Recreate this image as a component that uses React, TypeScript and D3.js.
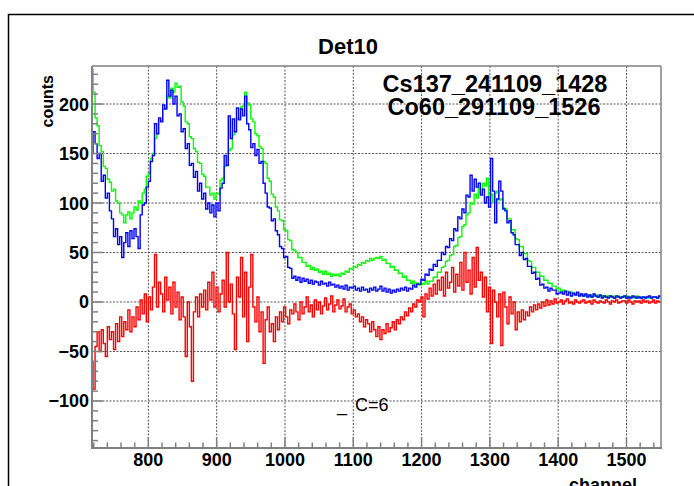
import React from "react";
import * as d3 from "d3";

// Histogram binning (channel of first bin edge, bin width in channels)
const BIN_START = 716;
const BIN_WIDTH = 3;

// Green series, one row = 10 bins = 30 channels (716, 746, 776, ...)
const greenCounts = [
  235, 212, 186, 178, 158, 152, 137, 135, 124, 121,
  112, 114, 102, 100, 90, 88, 80, 88, 91, 84,
  90, 96, 93, 102, 100, 110, 114, 127, 130, 145,
  150, 165, 170, 184, 183, 195, 196, 208, 206, 216,
  212, 221, 217, 218, 202, 198, 182, 180, 167, 165,
  155, 152, 141, 140, 129, 127, 116, 116, 108, 110,
  104, 110, 109, 123, 125, 137, 138, 153, 155, 169,
  172, 185, 186, 197, 198, 212, 201, 199, 185, 182,
  170, 168, 157, 155, 142, 140, 125, 122, 109, 106,
  96, 92, 83, 82, 73, 72, 63, 62, 53, 52,
  50, 45, 45, 40, 40, 36, 37, 33, 35, 32,
  33, 30, 31, 28, 31, 28, 29, 26, 28, 27,
  28, 26, 29, 28, 31, 30, 34, 33, 36, 35,
  38, 37, 40, 39, 42, 41, 44, 42, 44, 45,
  44, 46, 42, 43, 39, 39, 35, 36, 32, 32,
  29, 29, 25, 26, 22, 22, 19, 21, 18, 19,
  17, 19, 18, 21, 18, 21, 21, 25, 25, 30,
  30, 35, 36, 41, 42, 47, 48, 56, 57, 65,
  66, 76, 78, 88, 90, 100, 99, 109, 105, 115,
  110, 120, 117, 125, 106, 109, 101, 110, 112, 103,
  104, 95, 94, 84, 84, 73, 73, 64, 63, 56,
  56, 49, 49, 42, 41, 35, 35, 30, 30, 26,
  26, 22, 22, 19, 19, 16, 16, 13, 14, 11,
  12, 10, 11, 9, 10, 8, 9, 7, 8, 7,
  6, 7, 6, 7, 5, 6, 7, 5, 6, 6,
  5, 6, 6, 5, 6, 4, 5, 6, 5, 5,
  5, 6, 4, 5, 5, 4, 6, 5, 4, 5,
  5, 4, 5, 4, 5, 5, 4, 5,
];

// Blue series
const blueCounts = [
  150, 172, 160, 145, 150, 122, 128, 105, 110, 92,
  84, 66, 74, 58, 66, 45, 60, 70, 56, 72,
  64, 74, 66, 54, 88, 98, 100, 116, 122, 142,
  148, 180, 170, 186, 182, 199, 195, 224, 208, 214,
  200, 208, 188, 190, 172, 175, 155, 160, 138, 140,
  126, 132, 112, 120, 104, 110, 94, 100, 90, 98,
  86, 100, 92, 115, 120, 148, 138, 188, 165, 185,
  172, 196, 184, 195, 188, 208, 180, 174, 156, 160,
  148, 154, 140, 142, 120, 110, 96, 95, 82, 84,
  72, 68, 56, 54, 45, 46, 35, 34, 24, 26,
  22, 25, 20, 24, 21, 23, 19, 22, 18, 21,
  20, 17, 21, 18, 19, 16, 20, 17, 18, 15,
  17, 14, 16, 13, 17, 12, 15, 14, 16, 12,
  14, 11, 15, 12, 13, 10, 14, 12, 15, 11,
  13, 16, 11, 14, 10, 13, 9, 12, 10, 13,
  11, 14, 12, 15, 11, 14, 13, 17, 15, 18,
  18, 23, 22, 28, 27, 33, 32, 38, 36, 42,
  42, 50, 48, 56, 55, 64, 62, 74, 72, 86,
  84, 94, 90, 108, 106, 128, 112, 124, 116, 120,
  108, 114, 100, 106, 96, 145, 112, 80, 104, 122,
  112, 94, 92, 80, 82, 70, 68, 58, 58, 47,
  50, 43, 44, 36, 36, 29, 30, 23, 24, 17,
  18, 14, 15, 11, 14, 12, 12, 8, 9, 10,
  8, 11, 7, 10, 6, 9, 7, 10, 6, 8,
  6, 8, 5, 7, 5, 8, 6, 5, 7, 4,
  6, 5, 4, 6, 5, 4, 6, 5, 4, 5,
  6, 4, 5, 4, 6, 5, 4, 5, 4, 5,
  4, 5, 6, 4, 5, 5, 4, 6,
];

// Red series (difference)
const redCounts = [
  -60, -88, -45, -30, -50, -28, -42, -55, -25, -38,
  -30, -48, -22, -40, -15, -35, -20, -28, -8, -30,
  -15, -25, -5, -18, 2, -12, 8, -20, 5, -8,
  15, 48, -5, 20, 8, -10, 25, 2, 15, -12,
  20, -5, 10, -18, 5, -15, -55, 0, -25, -80,
  -10, 5, -15, 8, -5, 12, -8, 20, 2, 30,
  -5, 15, -10, 8, 22, -5, 50, 0, 18, -12,
  -48, 25, 5, 45, -15, 30, -40, 15, 48, -5,
  -20, 5, -30, -10, -62, -18, -5, -30, -22, -40,
  -15, -28, -10, -20, -5, -15, -22, -8, -12, -2,
  -10, -18, 0, -12, -5, 5, -10, -3, -15, 2,
  -8, 0, -12, -4, 4, -8, -2, 6, -10, -3,
  2, -7, -4, 3, -10, -5, -2, -12, -8, -15,
  -12, -20, -15, -25, -18, -22, -30, -20, -28, -35,
  -25, -38, -28, -32, -22, -30, -26, -20, -28, -18,
  -22, -15, -18, -10, -14, -6, -10, -2, -5, 2,
  0, 5, -15, 8, 3, 14, 6, 18, 8, 22,
  12, 25, 6, 30, 14, 20, 35, 10, 28, 16,
  40, 12, 50, 20, 32, 8, 45, 15, 55, 22,
  30, 5, 25, -10, 15, -42, 12, 0, -15, 8,
  -44, 10, -5, -22, 5, -12, 0, -28, -10, -20,
  -8, -18, -10, -14, -5, -10, -3, -8, -2, -6,
  0, -4, 2, -3, 1, -2, 3, -1, 0, 2,
  -2, 1, 3, -1, 0, -2, 2, 0, -1, 1,
  2, -1, 0, 1, -2, 2, 0, -1, 1, 0,
  -1, 2, 0, -2, 1, 0, 2, -1, 0, 1,
  1, -1, 2, 0, -2, 1, 0, 1, -1, 2,
  0, 1, -1, 0, 2, -1, 1, 0,
];

const xTickValues = [800, 900, 1000, 1100, 1200, 1300, 1400, 1500];
const yTickValues = [-100, -50, 0, 50, 100, 150, 200];
const titleText = "Det10";
const legendLines = ["Cs137_241109_1428", "Co60_291109_1526"];
const xAxisTitle = "channel";
const yAxisTitle = "counts";

const W = 694;
const H = 486;
const L = 92, R = 661, T = 66, B = 448;
const FONT = "'Liberation Sans', Arial, Helvetica, sans-serif";
const AXIS_GRAY = "#808080";

export default function App() {
  const x = d3.scaleLinear().domain([717.5, 1550.5]).range([L, R]);
  const y = d3.scaleLinear().domain([-147.5, 238.4]).range([B, T]);

  const step = d3
    .line<[number, number]>()
    .x((d) => x(d[0]))
    .y((d) => y(d[1]))
    .curve(d3.curveStepAfter);

  const toPts = (vals: number[]): [number, number][] => {
    const pts: [number, number][] = vals.map((v, i) => [BIN_START + i * BIN_WIDTH, v]);
    pts.push([BIN_START + vals.length * BIN_WIDTH, vals[vals.length - 1]]);
    return pts;
  };

  const xMinor = d3.range(720, 1550, 20);
  const yMinor = d3.range(-140, 239, 10);

  return (
    <svg
      width={W}
      height={H}
      style={{ position: "absolute", left: 0, top: 0, background: "#fff" }}
      fontFamily={FONT}
    >
      <defs>
        <clipPath id="plotclip">
          <rect x={L} y={T} width={R - L} height={B - T} />
        </clipPath>
      </defs>
      {/* canvas frame */}
      <rect x={8.5} y={14.5} width={720} height={520} fill="none" stroke="#000" strokeWidth={1.5} />

      {/* grid */}
      <g stroke="#555" strokeWidth={1} strokeDasharray="2,1.5">
        {xTickValues.map((t) => (
          <line key={"gx" + t} x1={x(t)} x2={x(t)} y1={T} y2={B} />
        ))}
        {yTickValues.map((t) => (
          <line key={"gy" + t} x1={L} x2={R} y1={y(t)} y2={y(t)} />
        ))}
      </g>

      {/* histograms */}
      <g clipPath="url(#plotclip)" fill="none" strokeWidth={1.4}>
        <path d={step(toPts(greenCounts)) || ""} stroke="#00ff00" />
        <path d={step(toPts(blueCounts)) || ""} stroke="#0000ff" />
        <path d={step(toPts(redCounts)) || ""} stroke="#ff0000" />
      </g>

      {/* frame */}
      <line x1={L} x2={R} y1={T} y2={T} stroke={AXIS_GRAY} strokeWidth={1.5} />
      <line x1={R} x2={R} y1={T} y2={B} stroke={AXIS_GRAY} strokeWidth={1.5} />
      <line x1={L} x2={R + 1} y1={B} y2={B} stroke={AXIS_GRAY} strokeWidth={2} />
      <line x1={L} x2={L} y1={T} y2={B + 1} stroke={AXIS_GRAY} strokeWidth={2} />

      {/* ticks */}
      <g stroke={AXIS_GRAY} strokeWidth={1.5}>
        {xMinor.map((t) => (
          <line key={"tx" + t} x1={x(t)} x2={x(t)} y1={B} y2={B - (t % 100 === 0 ? 11 : 5.5)} />
        ))}
        {yMinor.map((t) => (
          <line key={"ty" + t} x1={L} x2={L + (t % 50 === 0 ? 11 : 6)} y1={y(t)} y2={y(t)} />
        ))}
      </g>

      {/* tick labels */}
      <g fontWeight="bold" fontSize={18} fill="#000">
        {xTickValues.map((t) => (
          <text key={"lx" + t} x={x(t)} y={466} textAnchor="middle">
            {t}
          </text>
        ))}
        {yTickValues.map((t) => (
          <text key={"ly" + t} x={89} y={y(t) + 6.5} textAnchor="end">
            {t < 0 ? "\u2212" + Math.abs(t) : t}
          </text>
        ))}
      </g>

      {/* axis titles */}
      <text x={637} y={491} textAnchor="end" fontWeight="bold" fontSize={18}>
        {xAxisTitle}
      </text>
      <text
        transform="translate(53,75) rotate(-90)"
        textAnchor="end"
        fontWeight="bold"
        fontSize={16}
      >
        {yAxisTitle}
      </text>

      {/* title */}
      <text x={348} y={54} textAnchor="middle" fontWeight="bold" fontSize={22}>
        {titleText}
      </text>

      {/* legend text */}
      <text x={495} y={92} textAnchor="middle" fontWeight="bold" fontSize={23.5}>
        {legendLines[0]}
      </text>
      <text x={494} y={115} textAnchor="middle" fontWeight="bold" fontSize={23.5}>
        {legendLines[1]}
      </text>

      {/* annotation */}
      <text x={337} y={411} fontSize={18}>_</text>
      <text x={355} y={411} fontSize={18}>C=6</text>
    </svg>
  );
}
